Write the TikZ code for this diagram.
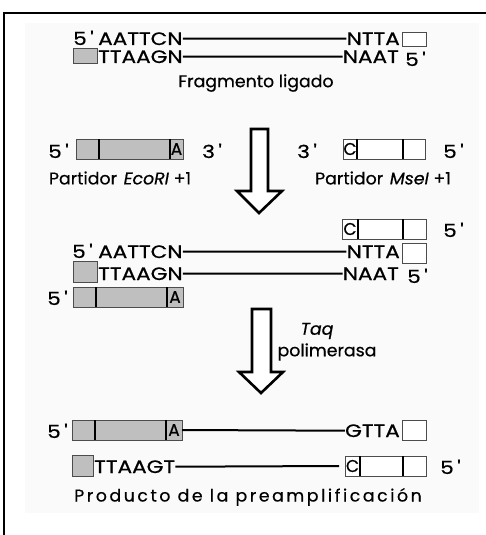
\documentclass[tikz,border=0pt]{standalone}
\usepackage{fontspec}
\setmainfont{Poppins}[Ligatures=TeXOff, FakeStretch=1.2, FakeBold=0.7]
\newfontfamily\lblfont{Poppins}[Ligatures=TeXOff, FakeStretch=1.02, FakeBold=0.5]
\newfontfamily\cellfont{Poppins}[Ligatures=TeXOff, FakeStretch=1.0, FakeBold=0.5]
\newcommand\fivep{5\hspace{3.5pt}'}
\newcommand\threep{3\hspace{3.5pt}'}
\begin{document}
\begin{tikzpicture}[x=1pt,y=-1pt,
  txt/.style={inner sep=0pt, font=\fontsize{18}{18}\selectfont},
  lbl/.style={inner sep=0pt, font=\lblfont\fontsize{17}{17}\selectfont},
  cell/.style={inner sep=0pt, font=\cellfont\fontsize{17}{17}\selectfont},
  gbox/.style={draw=black!70, fill=black!25, line width=0.9pt},
  wbox/.style={draw=black!70, fill=white, line width=0.9pt},
  divl/.style={line width=1.5pt, black},
  strand/.style={line width=2pt, black},
  blockarrow/.style={draw=black, fill=white, line width=2.6pt, line join=miter}]
\useasboundingbox (0,0) rectangle (486,535);
\fill[white] (0,0) rectangle (486,535);
\fill[black!2] (25,23) rectangle (479,513);
\draw[line width=1.6pt] (4,545) -- (4,13) -- (495,13);

% ---------- Section 1: ligated fragment
\node[txt, anchor=base west] (a5) at (73,45) {\fivep};
\node[txt, anchor=base west] (aT) at (98,45) {AATTCN};
\node[txt, anchor=base east] (aE) at (400,45) {NTTA};
\draw[wbox] (402,32) rectangle (426,46);
\draw[gbox] (73,48) rectangle (97,63);
\node[txt, anchor=base west] (bT) at (98,63) {TTAAGN};
\node[txt, anchor=base east] (bE) at (399,63) {NAAT};
\node[txt, anchor=base west] (b5) at (405,66) {\fivep};
\draw[strand] (aT.east) -- (aE.west);
\draw[strand] (bT.east) -- (bE.west);
\node[lbl] (frag) at (256,83) {Fragmento ligado};

% ---------- Section 2: primers
\node[txt, anchor=base west] (p5a) at (48,158) {\fivep};
\draw[gbox] (76,139) rectangle (183,159);
\draw[divl] (99,139) -- (99,159);
\draw[divl] (170,139) -- (170,159);
\node[cell] (pA) at (176.5,149) {A};
\node[txt, anchor=base west] (p3a) at (202,158) {\threep};
\node[txt, anchor=base west] (p3b) at (297,158) {\threep};
\draw[wbox] (343,139) rectangle (425,159);
\draw[divl] (357,139) -- (357,159);
\draw[divl] (403,139) -- (403,159);
\node[cell] (pC) at (350,149) {C};
\node[txt, anchor=base west] (p5b) at (443,158) {\fivep};
\node[lbl] (partE) at (120,178) {Partidor \hspace{2pt}\textit{EcoRI} +1};
\node[lbl] (partM) at (383,178) {Partidor \hspace{2pt}\textit{MseI} +1};

\draw[blockarrow] (251,129) -- (268,129) -- (268,191) -- (282,191) -- (259,213) -- (237,191) -- (251,191) -- cycle;

% ---------- Section 3: annealing
\draw[wbox] (342,219) rectangle (426,239);
\draw[divl] (358,219) -- (358,239);
\draw[divl] (403,219) -- (403,239);
\node[cell] (mC) at (350,229) {C};
\node[txt, anchor=base west] (m5) at (443,237) {\fivep};

\node[txt, anchor=base west] (c5) at (72,258) {\fivep};
\node[txt, anchor=base west] (cT) at (98,258) {AATTCN};
\node[txt, anchor=base east] (cE) at (400,258) {NTTA};
\draw[wbox] (402,243) rectangle (426,263);
\draw[gbox] (73,261) rectangle (97,282);
\node[txt, anchor=base west] (dT) at (98,280) {TTAAGN};
\node[txt, anchor=base east] (dE) at (399,280) {NAAT};
\node[txt, anchor=base west] (d5) at (407,283) {\fivep};
\draw[strand] (cT.east) -- (cE.west);
\draw[strand] (dT.east) -- (dE.west);

\node[txt, anchor=base west] (e5) at (47,305) {\fivep};
\draw[gbox] (73,287) rectangle (183,307);
\draw[divl] (96,287) -- (96,307);
\draw[divl] (167,287) -- (167,307);
\node[cell] (eA) at (175,297) {A};

\draw[blockarrow] (252,309) -- (271,309) -- (271,372) -- (283,372) -- (261,393) -- (239,372) -- (252,372) -- cycle;
\node[lbl] (taq) at (317,331) {\textit{Taq}};
\node[lbl] (pol) at (327,352) {polimerasa};

% ---------- Section 4: product
\node[txt, anchor=base west] (f5) at (47,438) {\fivep};
\draw[gbox] (72,420) rectangle (182,440);
\draw[divl] (95,420) -- (95,440);
\draw[divl] (166,420) -- (166,440);
\node[cell] (fA) at (174,430) {A};
\coordinate (fBox) at (182,430);
\node[txt, anchor=base east] (fE) at (400,437) {GTTA};
\draw[wbox] (402,420) rectangle (426,440);
\draw[strand] (fBox) -- (fE.west);

\draw[gbox] (72,455) rectangle (93,476);
\node[txt, anchor=base west] (gT) at (94,473) {TTAAGT};
\draw[wbox] (345,456) rectangle (426,476);
\draw[divl] (360,456) -- (360,476);
\draw[divl] (403,456) -- (403,476);
\node[cell] (gC) at (352.5,466) {C};
\coordinate (gBox) at (339,466);
\node[txt, anchor=base west] (g5) at (440,474) {\fivep};
\draw[strand] (gT.east) -- (gBox);

\node[lbl, font=\lblfont\fontsize{17}{17}\selectfont\addfontfeature{LetterSpace=15}] (prod) at (248,497) {Producto de la preamplificación};
\end{tikzpicture}
\end{document}
